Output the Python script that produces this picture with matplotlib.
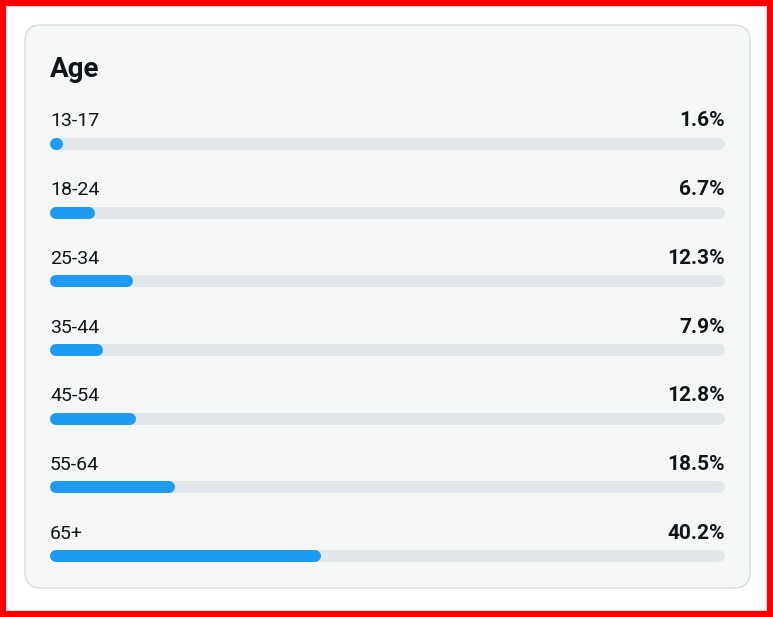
import matplotlib
matplotlib.use('Agg')
import matplotlib.pyplot as plt
from matplotlib.patches import FancyBboxPatch, Rectangle

#------------------------------------------------------------------------------
#   Data
#------------------------------------------------------------------------------
title = 'Age'
age_groups = ['13-17', '18-24', '25-34', '35-44', '45-54', '55-64', '65+']
shares = [1.6, 6.7, 12.3, 7.9, 12.8, 18.5, 40.2]

#   colours
blue = '#1d9bf0'
track = '#e1e7ea'
card_bg = '#f5f7f7'
card_edge = '#cfd9de'
ink = '#0f1419'

plt.rcParams['font.family'] = ['Roboto', 'DejaVu Sans']
plt.rcParams['path.simplify'] = False

W, H = 773, 617
fig = plt.figure(figsize=(W / 100, H / 100), dpi=100)
fig.patch.set_facecolor('white')

#------------------------------------------------------------------------------
#   Background axes in pixel units: red frame + card
#------------------------------------------------------------------------------
bg = fig.add_axes([0, 0, 1, 1])
bg.set_xlim(0, W)
bg.set_ylim(H, 0)
bg.axis('off')

bg.add_patch(Rectangle((3, 3), W - 6, H - 6, fill=False, edgecolor='red', linewidth=4.5))
bg.add_patch(FancyBboxPatch((25, 25), 725, 563,
                            boxstyle='round,pad=0,rounding_size=16',
                            facecolor=card_bg, edgecolor=card_edge, linewidth=0.9))
bg.text(50, 77, title, fontsize=20, fontweight='bold', color=ink, va='baseline')

#------------------------------------------------------------------------------
#   Bars axes: x in percent, y in category index
#------------------------------------------------------------------------------
left, right = 50, 725
first, step = 144, 68.7
n = len(age_groups)
top_px = first - step / 2
bot_px = first + step * (n - 1) + step / 2
ax = fig.add_axes([left / W, 1 - bot_px / H, (right - left) / W, (bot_px - top_px) / H])
ax.set_xlim(0, 100)
ax.set_ylim(n - 0.5, -0.5)
ax.axis('off')

bar_px = 12
lw = bar_px * 72 / 100
r = (bar_px / 2) / (right - left) * 100   # half bar height in percent units

for i, (lab, v) in enumerate(zip(age_groups, shares)):
    ax.plot([r, 100 - r], [i, i], color=track, lw=lw, solid_capstyle='round', clip_on=False)
    ax.plot([r, max(v - r, r + 0.1)], [i, i], color=blue, lw=lw, solid_capstyle='round', clip_on=False)
    ax.annotate(lab, xy=(0, i), xytext=(0, 17.5 * 0.72), textcoords='offset points',
                ha='left', va='baseline', fontsize=14, color=ink)
    ax.annotate(f'{v}%', xy=(100, i), xytext=(0, 17.5 * 0.72), textcoords='offset points',
                ha='right', va='baseline', fontsize=15, fontweight='bold', color=ink)

fig.savefig('out.png', dpi=100, facecolor='white')
